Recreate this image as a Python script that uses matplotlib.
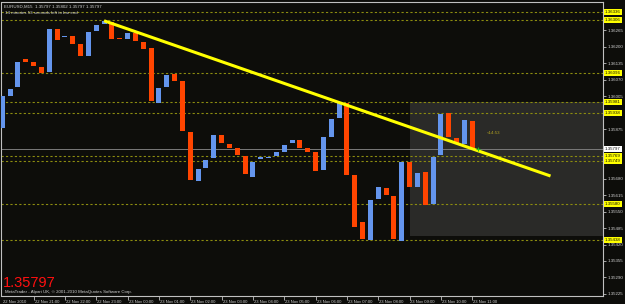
import matplotlib.pyplot as plt
import matplotlib.transforms as mtransforms
from matplotlib.patches import Rectangle

# EURUSD M15 candles (open / close)
opens = [1.35879, 1.36005, 1.36041, 1.36151, 1.36139, 1.36119, 1.36100, 1.36269, 1.36238, 1.36242,
         1.36210, 1.36163, 1.36261, 1.36289, 1.36297, 1.36234, 1.36230, 1.36253, 1.36218, 1.36194,
         1.35978, 1.36041, 1.36092, 1.36064, 1.35863, 1.35670, 1.35721, 1.35761, 1.35851, 1.35816,
         1.35800, 1.35769, 1.35686, 1.35757, 1.35761, 1.35769, 1.35784, 1.35820, 1.35832, 1.35800,
         1.35784, 1.35714, 1.35844, 1.35918, 1.35978, 1.35694, 1.35509, 1.35438, 1.35599, 1.35643,
         1.35611, 1.35434, 1.35745, 1.35647, 1.35706, 1.35580, 1.35773, 1.35938, 1.35840, 1.35816,
         1.35907]
closes = [1.36005, 1.36033, 1.36139, 1.36139, 1.36123, 1.36096, 1.36269, 1.36226, 1.36242, 1.36210,
          1.36163, 1.36257, 1.36285, 1.36301, 1.36230, 1.36230, 1.36253, 1.36222, 1.36190, 1.35985,
          1.36037, 1.36088, 1.36064, 1.35867, 1.35674, 1.35718, 1.35753, 1.35851, 1.35820, 1.35800,
          1.35773, 1.35698, 1.35745, 1.35765, 1.35765, 1.35784, 1.35812, 1.35832, 1.35800, 1.35784,
          1.35710, 1.35844, 1.35915, 1.35978, 1.35694, 1.35489, 1.35442, 1.35595, 1.35647, 1.35615,
          1.35442, 1.35745, 1.35647, 1.35702, 1.35576, 1.35765, 1.35934, 1.35844, 1.35820, 1.35911,
          1.35797]

time_labels = ["22 Nov 2010", "22 Nov 21:00", "22 Nov 22:00", "22 Nov 23:00", "23 Nov 00:00",
               "23 Nov 01:00", "23 Nov 02:00", "23 Nov 03:00", "23 Nov 04:00", "23 Nov 05:00",
               "23 Nov 06:00", "23 Nov 07:00", "23 Nov 08:00", "23 Nov 09:00", "23 Nov 10:00",
               "23 Nov 11:00"]

hline_prices = [1.36336, 1.36306, 1.36096, 1.35981, 1.35938, 1.35769, 1.35749, 1.35580, 1.35438]
price_ticks = [1.35225 + 0.00065 * k for k in range(18)]
last_price = 1.35797

trend_bars = [13, 70]
trend_prices = [1.36302, 1.35690]
box_bars = [52.0, 80.0]
box_prices = [1.35454, 1.35981]

BG = '#0d0d0a'
UP = '#6495ED'
DOWN = '#FF4500'
FRAME = '#c0c0c0'
TXT = '#d0d0d0'
FONT = 'Liberation Sans'
FS = 3.2

fig = plt.figure(figsize=(6.25, 3.04), dpi=100, facecolor=BG)
W, H = 625.0, 304.0
ax = fig.add_axes([1.5 / W, 8 / H, (603 - 1.5) / W, (296 - 2) / H], facecolor=BG)
ax.set_xlim(-0.1, 76.7)
ax.set_ylim(1.35217, 1.36376)

# selection box
ax.add_patch(Rectangle((box_bars[0], box_prices[0]), box_bars[1] - box_bars[0],
                       box_prices[1] - box_prices[0], facecolor='#2a2a28', edgecolor='none', zorder=1))

# horizontal lines
for p in hline_prices:
    ax.axhline(p, color='#8c8c10', lw=0.8, ls=(0, (2, 2)), zorder=2)
ax.axhline(last_price, color='#7a7a7a', lw=0.7, zorder=2)

# candles
min_h = 0.00004
for i, (o, c) in enumerate(zip(opens, closes)):
    lo = min(o, c)
    h = max(abs(c - o), min_h)
    ax.bar(i, h, bottom=lo, width=0.64, color=UP if c > o else DOWN, zorder=3)

# trendline
ax.plot(trend_bars, trend_prices, color='#ffff00', lw=2.2, zorder=4, solid_capstyle='butt')

ax.text(61.8, 1.35860, '<14:53', color='#b0a020', fontsize=FS, va='center', zorder=5, family=FONT)
ax.plot([60.8], [last_price], marker='+', color='#20c020', ms=3, mew=0.8, zorder=5)

# frame
for s in ax.spines.values():
    s.set_color(FRAME)
    s.set_linewidth(0.8)

# right price axis; labels hidden behind the line boxes are left out
ax.yaxis.tick_right()
ax.set_yticks(price_ticks)
marked = hline_prices + [last_price]
ax.set_yticklabels([f"{v:.5f}" if min(abs(v - m) for m in marked) > 0.00016 else ""
                    for v in price_ticks])
ax.tick_params(axis='y', colors=FRAME, labelcolor=TXT, labelsize=FS, length=2.5, width=0.6, pad=1.2)
for lab in ax.get_yticklabels():
    lab.set_family(FONT)

ybox = mtransforms.blended_transform_factory(ax.transAxes, ax.transData)
for p in hline_prices:
    ax.text(1.003, p, f"{p:.5f}", transform=ybox, fontsize=FS, color='#101000', va='center',
            ha='left', clip_on=False, zorder=10, family=FONT,
            bbox=dict(boxstyle='square,pad=0.25', facecolor='#ffff00', edgecolor='none'))
ax.text(1.003, last_price, f"{last_price:.5f}", transform=ybox, fontsize=FS, color='#101010',
        va='center', ha='left', clip_on=False, zorder=10, family=FONT,
        bbox=dict(boxstyle='square,pad=0.25', facecolor='#ffffff', edgecolor='none'))

# bottom time axis
tick_bars = [4 * k for k in range(len(time_labels))]
ax.set_xticks(tick_bars[1:])
ax.set_xticklabels([])
ax.tick_params(axis='x', colors=FRAME, length=3, width=0.6)
xbox = mtransforms.blended_transform_factory(ax.transData, ax.transAxes)
for b, lab in zip(tick_bars, time_labels):
    ax.text(b + 0.12, -0.012, lab, transform=xbox, fontsize=3.0, color=TXT, ha='left', va='top',
            clip_on=False, family=FONT)

# header / footer texts
ax.text(0.004, 0.992, "EURUSD,M15  1.35797 1.35802 1.35797 1.35797", transform=ax.transAxes,
        fontsize=FS, color=TXT, va='top', ha='left', family=FONT)
ax.text(0.006, 0.968, "14 minutes 53 seconds left to bar end", transform=ax.transAxes,
        fontsize=FS, color=TXT, va='top', ha='left', family=FONT)
ax.text(0.003, 0.02, "1.35797", transform=ax.transAxes, fontsize=10.5, color='#ff1010',
        va='bottom', ha='left', family=FONT)
ax.text(0.006, 0.006, "MetaTrader - Alpari UK, \u00a9 2001-2010 MetaQuotes Software Corp.",
        transform=ax.transAxes, fontsize=FS, color=TXT, va='bottom', ha='left', family=FONT)

fig.savefig('out.png', dpi=100, facecolor=BG)
